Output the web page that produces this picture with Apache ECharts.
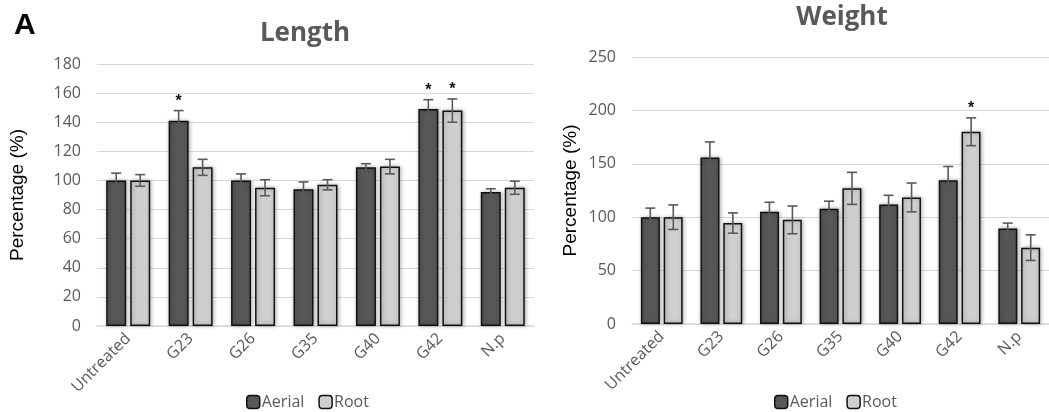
<!DOCTYPE html>
<html>
<head>
<meta charset="utf-8">
<script src="https://cdn.jsdelivr.net/npm/echarts@6/dist/echarts.min.js"></script>
<style>
html,body{margin:0;padding:0;background:#fff;}
#main{width:1049px;height:412px;}
</style>
</head>
<body>
<div id="main"></div>
<script>
var categories = ['Untreated','G23','G26','G35','G40','G42','N.p'];
var lengthAerial    = [100, 141, 100, 94, 109, 149, 92];
var lengthAerialErr = [5, 7, 4.5, 5, 2.5, 6.5, 2.3];
var lengthAerialSig = [0, 1, 0, 0, 0, 1, 0];
var lengthRoot      = [100, 109, 95, 97, 109.5, 148, 95];
var lengthRootErr   = [4, 5.5, 5.5, 3.5, 5, 8, 4.5];
var lengthRootSig   = [0, 0, 0, 0, 0, 1, 0];
var weightAerial    = [100, 156, 105, 108, 112, 134.5, 89.5];
var weightAerialErr = [8.5, 14.5, 9, 7, 8.5, 13, 5];
var weightAerialSig = [0, 0, 0, 0, 0, 0, 0];
var weightRoot      = [100, 94.5, 97.5, 127, 118.5, 180, 71.5];
var weightRootErr   = [11.5, 9.5, 13, 15, 13.5, 13, 12];
var weightRootSig   = [0, 0, 0, 0, 0, 1, 0];
var lengthTicks = {min: 0, max: 180, interval: 20};
var weightTicks = {min: 0, max: 250, interval: 50};

var AER = '#575757', ROOT = '#cfcfcf', TXT = '#595959';
var FONT = '"Open Sans", "Liberation Sans", sans-serif';

function errData(vals, errs, sig) {
  return vals.map(function (v, i) { return [i, v, errs[i], sig[i]]; });
}
function errSeries(name, xi, vals, errs, sig, offset) {
  return {
    type: 'custom', name: name + 'err', xAxisIndex: xi, yAxisIndex: xi, z: 5,
    data: errData(vals, errs, sig),
    renderItem: function (params, api) {
      var i = api.value(0), v = api.value(1), e = api.value(2), s = api.value(3);
      var hi = api.coord([i, v + e]), lo = api.coord([i, v - e]);
      var x = hi[0] + offset, cw = 5;
      var st = {stroke: '#595959', lineWidth: 1.6};
      var ch = [
        {type: 'line', shape: {x1: x, y1: hi[1], x2: x, y2: lo[1]}, style: st},
        {type: 'line', shape: {x1: x - cw, y1: hi[1], x2: x + cw, y2: hi[1]}, style: st},
        {type: 'line', shape: {x1: x - cw, y1: lo[1], x2: x + cw, y2: lo[1]}, style: st}
      ];
      if (s) {
        ch.push({type: 'text', style: {x: x, y: hi[1] - 1, text: '*', fill: '#111',
          font: 'bold 16px "Liberation Sans", Arial, sans-serif', textAlign: 'center', textVerticalAlign: 'bottom'}});
      }
      return {type: 'group', children: ch};
    }
  };
}
function barSeries(name, xi, vals, color, bw) {
  return {
    type: 'bar', name: name, xAxisIndex: xi, yAxisIndex: xi, data: vals,
    barWidth: bw, barGap: '20%',
    itemStyle: {color: color, borderColor: '#111', borderWidth: 1.5,
      shadowColor: 'rgba(0,0,0,0.3)', shadowBlur: 4, shadowOffsetX: 1, shadowOffsetY: 0},
    emphasis: {disabled: true}
  };
}
function xAx(gi) {
  return {
    type: 'category', gridIndex: gi, data: categories,
    axisLine: {lineStyle: {color: '#d9d9d9', width: 1.5}},
    axisTick: {show: false},
    axisLabel: {rotate: 45, color: TXT, fontSize: 16, fontFamily: FONT, margin: 10, interval: 0}
  };
}
function yAx(gi, t, gap) {
  return {
    type: 'value', gridIndex: gi, min: t.min, max: t.max, interval: t.interval,
    name: 'Percentage (%)', nameLocation: 'middle', nameGap: gap, nameRotate: 90,
    nameTextStyle: {color: '#000', fontSize: 19, fontFamily: '"Liberation Sans", Arial, sans-serif'},
    axisLine: {show: false}, axisTick: {show: false},
    axisLabel: {color: TXT, fontSize: 16, fontFamily: FONT, margin: 16},
    splitLine: {lineStyle: {color: '#d9d9d9', width: 1.2}}
  };
}
function legend(left) {
  return {
    left: left, top: 389, itemWidth: 13, itemHeight: 13, itemGap: 14,
    data: ['Aerial', 'Root'],
    textStyle: {color: TXT, fontSize: 16, fontFamily: FONT, padding: [0, 0, 0, -3]},
    itemStyle: {borderColor: '#111', borderWidth: 1.5}
  };
}

var chart = echarts.init(document.getElementById('main'), null, {renderer: 'canvas'});
chart.setOption({
  animation: false,
  backgroundColor: '#fff',
  color: [AER, ROOT],
  title: [
    {text: 'A', left: 9, top: 6, textStyle: {fontSize: 30, fontWeight: 'bold', color: '#000', fontFamily: '"Liberation Sans", Arial, sans-serif'}},
    {text: 'Length', left: 300, top: 16, textAlign: 'center', textStyle: {fontSize: 26, fontWeight: 'bold', color: TXT, fontFamily: FONT}},
    {text: 'Weight', left: 837, top: 0, textAlign: 'center', textStyle: {fontSize: 26, fontWeight: 'bold', color: TXT, fontFamily: FONT}}
  ],
  legend: [legend(241), legend(769)],
  grid: [
    {left: 97, right: 515, top: 64, bottom: 86},
    {left: 632, right: -1, top: 57, bottom: 88}
  ],
  xAxis: [xAx(0), xAx(1)],
  yAxis: [yAx(0, lengthTicks, 70), yAx(1, weightTicks, 52)],
  series: [
    barSeries('Aerial', 0, lengthAerial, AER, 20),
    barSeries('Root', 0, lengthRoot, ROOT, 20),
    barSeries('Aerial', 1, weightAerial, AER, 19),
    barSeries('Root', 1, weightRoot, ROOT, 19),
    errSeries('la', 0, lengthAerial, lengthAerialErr, lengthAerialSig, -12),
    errSeries('lr', 0, lengthRoot, lengthRootErr, lengthRootSig, 12),
    errSeries('wa', 1, weightAerial, weightAerialErr, weightAerialSig, -11.5),
    errSeries('wr', 1, weightRoot, weightRootErr, weightRootSig, 11.5)
  ]
});
</script>
</body>
</html>
